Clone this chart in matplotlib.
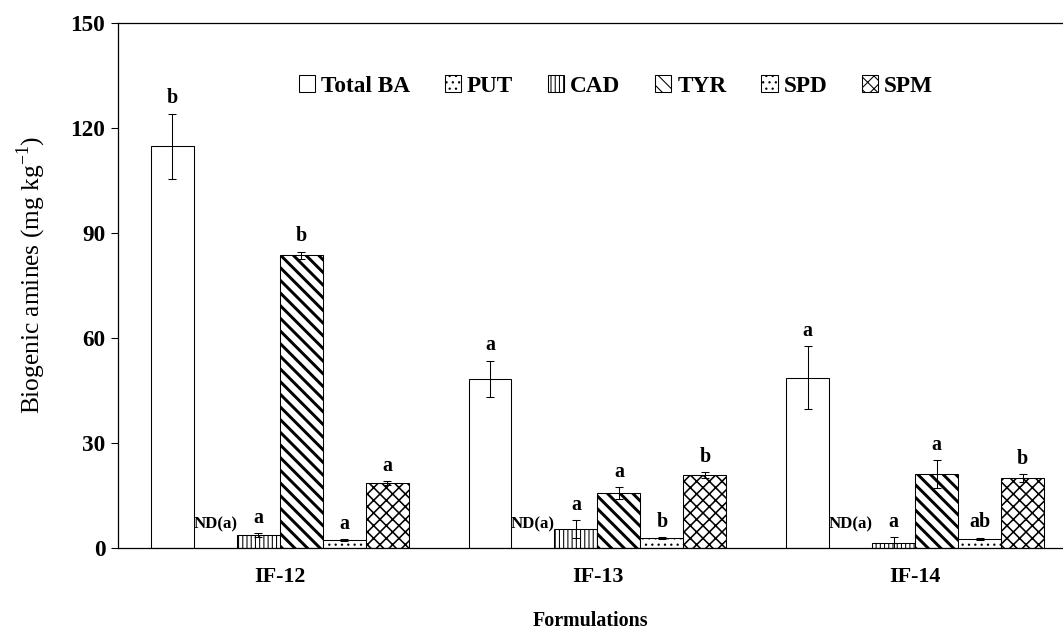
import matplotlib
matplotlib.use('Agg')
import matplotlib.pyplot as plt
from matplotlib.patches import Patch
import numpy as np

formulations = ['IF-12', 'IF-13', 'IF-14']
amines = ['Total BA', 'PUT', 'CAD', 'TYR', 'SPD', 'SPM']

total_ba = [114.8, 48.3, 48.6]
total_ba_err = [9.3, 5.2, 9.0]
put = [0, 0, 0]          # not detected
put_err = [0, 0, 0]
cad = [3.7, 5.4, 1.4]
cad_err = [0.6, 2.6, 1.7]
tyr = [83.7, 15.7, 21.1]
tyr_err = [1.0, 1.7, 4.0]
spd = [2.3, 2.9, 2.6]
spd_err = [0.3, 0.3, 0.4]
spm = [18.6, 20.9, 20.0]
spm_err = [0.5, 0.8, 1.1]

letters = [
    ['b', 'a', 'a'],
    ['ND(a)', 'ND(a)', 'ND(a)'],
    ['a', 'a', 'a'],
    ['b', 'a', 'a'],
    ['a', 'b', 'ab'],
    ['a', 'b', 'b'],
]

values = [total_ba, put, cad, tyr, spd, spm]
errors = [total_ba_err, put_err, cad_err, tyr_err, spd_err, spm_err]
hatches = ['', '..', '|||', '\\\\', '..', 'xx']
hatch_lw = [1.0, 1.0, 1.0, 2.8, 1.0, 1.5]

plt.rcParams['font.family'] = ['Liberation Serif', 'DejaVu Serif']
plt.rcParams['mathtext.fontset'] = 'custom'
plt.rcParams['mathtext.rm'] = 'Liberation Serif'

dpi = 76
fig = plt.figure(figsize=(1063 / dpi, 635 / dpi), dpi=dpi)
ax = fig.add_axes([118 / 1063, 87 / 635, 945 / 1063, 525 / 635])

x = np.arange(len(formulations))
w = 0.1354
handles = []
for i, name in enumerate(amines):
    pos = x + (i - 2.5) * w
    with plt.rc_context({'hatch.linewidth': hatch_lw[i]}):
        handles.append(Patch(facecolor='white', edgecolor='black',
                             hatch=hatches[i], linewidth=1.0))
        if name == 'PUT':
            # ND: nothing to draw, only the letter
            pass
        else:
            ax.bar(pos, values[i], w, color='white', edgecolor='black',
                   hatch=hatches[i], linewidth=1.0,
                   yerr=errors[i], capsize=4,
                   error_kw=dict(elinewidth=1, ecolor='black', capthick=1))
    for j in range(len(formulations)):
        if name == 'PUT':
            ax.annotate(letters[i][j], (pos[j], 0), xytext=(0, 15),
                        textcoords='offset points', ha='center', va='bottom',
                        fontsize=16, fontweight='bold')
        else:
            top = values[i][j] + errors[i][j]
            ax.annotate(letters[i][j], (pos[j], top), xytext=(0, 5),
                        textcoords='offset points', ha='center', va='bottom',
                        fontsize=19, fontweight='bold')

ax.set_xlim(-0.510, 2.466)
ax.set_ylim(0, 150)
ax.set_yticks([0, 30, 60, 90, 120, 150])
ax.set_xticks(x)
ax.set_xticklabels(formulations, fontsize=21, fontweight='bold')
ax.tick_params(axis='x', length=0, pad=18)
ax.tick_params(axis='y', direction='out', length=7, width=1, pad=5,
               labelsize=22)
for lab in ax.get_yticklabels():
    lab.set_fontweight('bold')

ax.spines['right'].set_visible(False)
for s in ['left', 'bottom', 'top']:
    ax.spines[s].set_linewidth(1.2)

ax.set_ylabel('Biogenic amines (mg kg$^{\\mathrm{-1}}$)', fontsize=24)
ax.yaxis.set_label_coords(-0.074, 0.52)
ax.set_xlabel('Formulations', fontsize=19, fontweight='bold')
ax.xaxis.set_label_coords(0.5, -0.12)

leg = fig.legend(handles=handles, labels=amines, ncol=6, loc='center',
                 bbox_to_anchor=(616 / 1063, 1 - 86 / 635), frameon=False,
                 handlelength=0.7, handleheight=0.7, handletextpad=0.25,
                 columnspacing=1.5,
                 prop={'family': 'Liberation Serif', 'weight': 'bold',
                       'size': 22})

fig.savefig('out.png', dpi=dpi)
